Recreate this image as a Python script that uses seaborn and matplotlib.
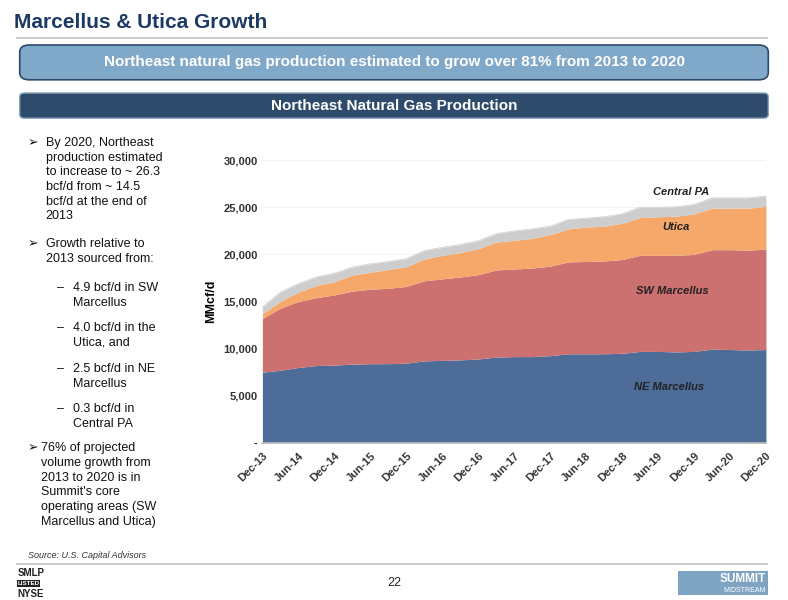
import matplotlib
matplotlib.use("Agg")
import matplotlib.pyplot as plt
import seaborn as sns
import numpy as np
import pandas as pd
from matplotlib.patches import FancyBboxPatch, Rectangle

sns.set_theme(style="white")
plt.rcParams['font.family'] = ['Liberation Sans', 'DejaVu Sans']

quarters = ["Dec-13","Mar-14","Jun-14","Sep-14","Dec-14","Mar-15","Jun-15","Sep-15","Dec-15",
            "Mar-16","Jun-16","Sep-16","Dec-16","Mar-17","Jun-17","Sep-17","Dec-17",
            "Mar-18","Jun-18","Sep-18","Dec-18","Mar-19","Jun-19","Sep-19","Dec-19",
            "Mar-20","Jun-20","Sep-20","Dec-20"]
# cumulative stack tops (MMcf/d)
ne_top = [7500,7700,8000,8200,8250,8350,8400,8400,8450,8700,8750,8800,8900,9100,9150,9150,9250,
          9450,9450,9450,9500,9700,9700,9650,9700,9950,9900,9850,9900]
sw_top = [13200,14300,15000,15400,15700,16100,16300,16400,16600,17200,17400,17600,17850,18350,18450,
          18550,18750,19200,19250,19300,19450,19900,19900,19900,20000,20500,20500,20450,20550]
utica_top = [13700,15000,16000,16700,17100,17800,18100,18400,18700,19500,19900,20200,20600,21300,
             21500,21700,22100,22700,22900,23000,23300,23900,24000,24050,24300,24900,24900,24900,25100]
cpa_top = [14400,16000,16900,17600,18000,18650,19000,19250,19550,20400,20750,21050,21450,22200,22500,
           22700,23000,23700,23850,24000,24300,25000,25000,25050,25300,26000,26000,26000,26200]
series_names = ["NE Marcellus","SW Marcellus","Utica","Central PA"]
colors = ["#4e6c98","#cc7070","#f5a86a","#cdcdcd"]
yticks = [0,5000,10000,15000,20000,25000,30000]
ytick_labels = ["-","5,000","10,000","15,000","20,000","25,000","30,000"]

df = pd.DataFrame({"q": quarters, "NE Marcellus": ne_top, "SW Marcellus": sw_top,
                   "Utica": utica_top, "Central PA": cpa_top})

fig = plt.figure(figsize=(7.88, 6.0), dpi=100)
ax = fig.add_axes([0.333, 0.262, 0.639, 0.471])
x = np.arange(len(quarters))
prev = np.zeros(len(quarters))
for name, c in zip(series_names, colors):
    top = df[name].to_numpy(dtype=float)
    ax.fill_between(x, prev, top, color=c, linewidth=0)
    prev = top
sns.lineplot(x=x, y=df["Central PA"], ax=ax, color=colors[3], linewidth=0.5)
ax.set_xlim(0, len(quarters)-1)
ax.set_ylim(0, 30000)
ax.set_yticks(yticks)
ax.set_yticklabels(ytick_labels, fontsize=8, fontweight="bold", color="#333333")
ax.set_xticks(x[::2])
ax.set_xticklabels(quarters[::2], rotation=45, ha="right", rotation_mode="anchor",
                   fontsize=8, fontweight="bold", color="#333333")
ax.set_ylabel("MMcf/d", fontsize=9, fontweight="bold", color="black")
ax.set_xlabel("")
for yv in [5000,10000,15000,20000,25000,30000]:
    ax.axhline(yv, color="#f0f0f0", lw=0.6, zorder=0)
for s in ["top","right","left"]:
    ax.spines[s].set_visible(False)
ax.spines["bottom"].set_color("#bbbbbb")
ax.tick_params(axis="x", length=2, color="#bbbbbb")
ax.tick_params(axis="y", length=0)
lab = dict(fontsize=8, fontweight="bold", style="italic", color="#222222", ha="center")
ax.text(23.3, 26300, "Central PA", **lab)
ax.text(23.0, 22600, "Utica", **lab)
ax.text(22.8, 15800, "SW Marcellus", **lab)
ax.text(22.6, 5600, "NE Marcellus", **lab)

# slide decorations
fig.text(0.018, 0.962, "Marcellus & Utica Growth", fontsize=15, fontweight="bold",
         color="#1c3a66", va="center")
fig.add_artist(Rectangle((0.02, 0.935), 0.955, 0.004, transform=fig.transFigure,
                         color="#cccccc", lw=0))
fig.add_artist(FancyBboxPatch((0.025, 0.867), 0.95, 0.058, boxstyle="round,pad=0,rounding_size=0.012",
                              transform=fig.transFigure, fc="#80a8c8", ec="#2e4a6a", lw=1.2))
fig.text(0.5, 0.896, "Northeast natural gas production estimated to grow over 81% from 2013 to 2020",
         fontsize=11, fontweight="bold", color="white", ha="center", va="center")
fig.add_artist(FancyBboxPatch((0.025, 0.803), 0.95, 0.042, boxstyle="round,pad=0,rounding_size=0.006",
                              transform=fig.transFigure, fc="#2f4b6b", ec="#8aa4c0", lw=1))
fig.text(0.5, 0.824, "Northeast Natural Gas Production", fontsize=11, fontweight="bold",
         color="white", ha="center", va="center")

tk = dict(fontsize=9, color="#111111", va="top", linespacing=1.3, family=["Liberation Sans","DejaVu Sans"])
fig.text(0.035, 0.772, "➢", **tk)
fig.text(0.058, 0.772, "By 2020, Northeast\nproduction estimated\nto increase to ~ 26.3\nbcf/d from ~ 14.5\nbcf/d at the end of\n2013", **tk)
fig.text(0.035, 0.603, "➢", **tk)
fig.text(0.058, 0.603, "Growth relative to\n2013 sourced from:", **tk)
subs = [("4.9 bcf/d in SW\nMarcellus", 0.53), ("4.0 bcf/d in the\nUtica, and", 0.463),
        ("2.5 bcf/d in NE\nMarcellus", 0.395), ("0.3 bcf/d in\nCentral PA", 0.328)]
for t, yy in subs:
    fig.text(0.072, yy, "–", **tk)
    fig.text(0.093, yy, t, **tk)
fig.text(0.035, 0.263, "➢", **tk)
fig.text(0.052, 0.263, "76% of projected\nvolume growth from\n2013 to 2020 is in\nSummit's core\noperating areas (SW\nMarcellus and Utica)", **tk)
fig.text(0.035, 0.075, "Source: U.S. Capital Advisors", fontsize=6.5, style="italic", color="#333333", va="center")
fig.add_artist(Rectangle((0.02, 0.058), 0.955, 0.003, transform=fig.transFigure, color="#cccccc", lw=0))
fig.text(0.5, 0.028, "22", fontsize=9, color="#222222", ha="center", va="center")
fig.text(0.022, 0.045, "SMLP", fontsize=7, fontweight="bold", color="#222222", va="center")
fig.text(0.022, 0.028, "LISTED", fontsize=4.5, fontweight="bold", color="white", va="center",
         bbox=dict(fc="#222222", ec="none", pad=0.6))
fig.text(0.022, 0.01, "NYSE", fontsize=7, fontweight="bold", color="#222222", va="center")
fig.add_artist(Rectangle((0.86, 0.008), 0.115, 0.04, transform=fig.transFigure, color="#7fa3c3", lw=0))
fig.text(0.972, 0.035, "SUMMIT", fontsize=8.5, fontweight="bold", color="white", ha="right", va="center")
fig.text(0.972, 0.016, "MIDSTREAM", fontsize=5, color="white", ha="right", va="center")

fig.savefig("out.png", dpi=100)
